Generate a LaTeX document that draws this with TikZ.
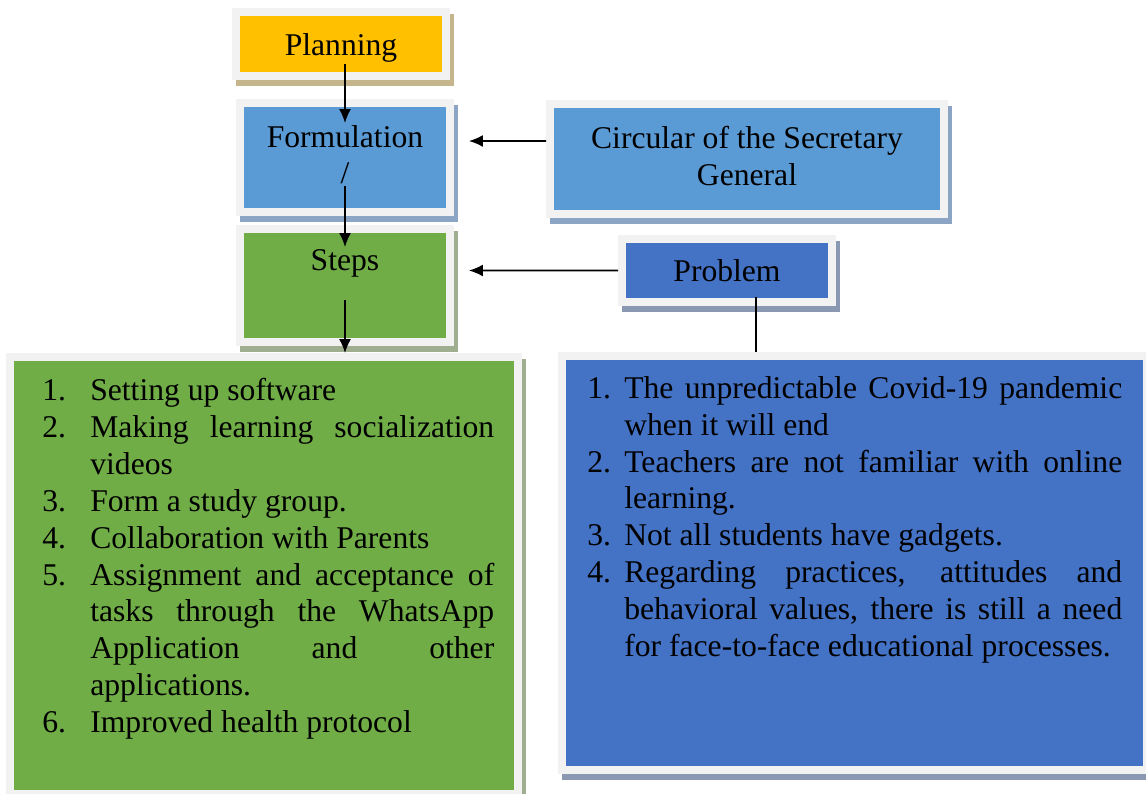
\documentclass[tikz,border=0pt]{standalone}
\usepackage{fontspec}
\setmainfont{Liberation Serif}
\usetikzlibrary{arrows.meta,backgrounds}
\definecolor{planorange}{RGB}{255,192,0}
\definecolor{formblue}{RGB}{91,155,213}
\definecolor{stepgreen}{RGB}{112,173,71}
\definecolor{probblue}{RGB}{68,114,196}
\definecolor{framegray}{RGB}{242,242,242}
\definecolor{tanshade}{RGB}{196,181,140}
\definecolor{blueshade}{RGB}{140,165,196}
\definecolor{greenshade}{RGB}{158,174,142}
\definecolor{grayshade}{RGB}{138,152,178}
\newlength\itemind
\newcommand{\numitem}[2]{\noindent\hangindent=\itemind\hangafter=1\makebox[\itemind][l]{#1}#2\par}
\tolerance=10000 \hyphenpenalty=10000 \hbadness=10000
\begin{document}
\begin{tikzpicture}[x=0.02cm,y=-0.02cm,>={Latex[length=0.28cm,width=0.24cm]},
 box/.style={draw=framegray,line width=0.16cm,inner sep=0pt},
 lbl/.style={inner sep=1pt,align=center,font=\fontsize{18}{21}\selectfont},
 lst/.style={inner sep=0pt,anchor=north west,align=justify,font=\fontsize{18}{21}\selectfont}]
 \useasboundingbox (0,0) rectangle (1146,794);
 \node[box,fill=planorange,minimum width=4.2cm,minimum height=1.28cm] (plan) at (341,44) {};
 \node[box,fill=formblue,minimum width=4.2cm,minimum height=2.18cm] (form) at (345,157.5) {};
 \node[box,fill=formblue,minimum width=7.88cm,minimum height=2.2cm] (circ) at (747,159) {};
 \node[box,fill=stepgreen,minimum width=4.2cm,minimum height=2.26cm] (steps) at (345,285.5) {};
 \node[box,fill=probblue,minimum width=4.2cm,minimum height=1.26cm] (prob) at (727,270.5) {};
 \node[box,fill=stepgreen,minimum width=10.16cm,minimum height=8.74cm] (stepl) at (264,575.5) {};
 \node[box,fill=probblue,minimum width=11.7cm,minimum height=8.28cm] (probl) at (854.5,563) {};
 \begin{scope}[on background layer]
 \fill[white] (0,0) rectangle (1146,794);
 \foreach \n/\c in {plan/tanshade,form/blueshade,circ/blueshade,steps/greenshade,prob/grayshade,stepl/greenshade,probl/grayshade}
  \fill[\c] ([xshift=0.08cm,yshift=-0.12cm]\n.north west) rectangle ([xshift=0.08cm,yshift=-0.12cm]\n.south east);
 \end{scope}

 % box texts
 \node[lbl] (plantxt) at (341,48) {Planning};
 \node[lbl,anchor=north] (formtxt) at (345,123) {Formulation\\/};
 \node[lbl,anchor=north] (circtxt) at (747,124) {Circular of the Secretary\\General};
 \node[lbl,anchor=north] (stepstxt) at (345,247) {Steps};
 \node[lbl] (probtxt) at (727,271) {Problem};

 % lists
 \node[lst,text width=9.04cm] (stepitems) at (42,378) {\setlength\itemind{0.96cm}%
  \numitem{1.}{Setting up software}
  \numitem{2.}{Making learning socialization videos}
  \numitem{3.}{Form a study group.}
  \numitem{4.}{Collaboration with Parents}
  \numitem{5.}{Assignment and acceptance of tasks through the WhatsApp Application and other applications.}
  \numitem{6.}{Improved health protocol}};
 \node[lst,text width=10.7cm] (probitems) at (587,376) {\setlength\itemind{0.74cm}%
  \numitem{1.}{The unpredictable Covid-19 pandemic when it will end}
  \numitem{2.}{Teachers are not familiar with online learning.}
  \numitem{3.}{Not all students have gadgets.}
  \numitem{4.}{Regarding practices, attitudes and behavioral values, there is still a need for face-to-face educational processes.}};

 \path ([xshift=0.58cm,yshift=0.18cm]prob.south) coordinate (pdrop);
 \draw[line width=0.9pt,->] (formtxt.north |- plantxt.south) -- (formtxt.north);
 \draw[line width=0.9pt,->] (formtxt.south) -- (stepstxt.north);
 \draw[line width=0.9pt,->] ([yshift=0.92cm]steps.south) -- (steps.south |- stepl.north);
 \draw[line width=0.9pt,->] ([yshift=0.36cm]circ.west) -- ([xshift=0.3cm,yshift=0.33cm]form.east);
 \draw[line width=0.9pt,->] (prob.west) -- ([xshift=0.3cm,yshift=0.3cm]steps.east);
 \draw[line width=0.9pt] (pdrop) -- (pdrop |- probl.north);
\end{tikzpicture}
\end{document}
